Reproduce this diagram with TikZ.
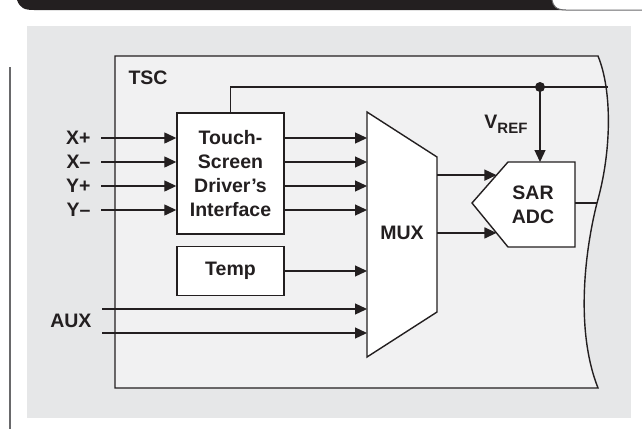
\documentclass[tikz,border=0pt]{standalone}
\usepackage{fontspec}
\setmainfont{Liberation Sans}
\usetikzlibrary{arrows.meta, positioning, calc}

\begin{document}
\begin{tikzpicture}[x=1pt, y=-1pt,
    every node/.style={font=\fontsize{19.5}{24}\selectfont\bfseries, text=inkcolor},
    blockbox/.style={draw=inkcolor, line width=1.4pt, fill=white, inner sep=0pt, align=center},
    wire/.style={draw=inkcolor, line width=1.3pt},
    feed/.style={wire, -{Triangle[length=12pt, width=11pt]}}]
    % Define consistent colors
    \definecolor{inkcolor}{RGB}{35,31,32}
    \definecolor{panelgray}{RGB}{230,231,232}
    \definecolor{boxgray}{RGB}{241,241,242}
    \definecolor{edgegray}{RGB}{105,105,107}

    \useasboundingbox (0,0) rectangle (642,429);

    % Page banner and background
    \fill[inkcolor] (17,0) .. controls (20,8) and (24,10) .. (34,10) -- (566,10)
        .. controls (556,10) and (553,6) .. (552,0) -- cycle;
    \draw[edgegray, line width=1pt] (552,0) .. controls (553,6) and (556,10) .. (566,10) -- (642,10);
    \fill[panelgray] (27,26) rectangle (631,418);
    \draw[edgegray, line width=2pt] (10,67) -- (10,429);

    % TSC outline with torn right edge
    \draw[inkcolor, line width=1.4pt, fill=boxgray] (115,56) -- (598,56)
        .. controls (612,90) and (612,150) .. (597,203)
        .. controls (585,250) and (575,330) .. (598,388) -- (115,388) -- cycle;
    \node[anchor=west] (tsc) at (125,78) {TSC};

    % Blocks
    \node[blockbox, minimum width=107pt, minimum height=121pt] (touch) at (230.5,173.5)
        {Touch-\\Screen\\Driver's\\Interface};
    \node[blockbox, minimum width=107pt, minimum height=49pt] (temp) at (230.5,271) {Temp};

    \coordinate (muxtl) at (367,112);
    \coordinate (muxtr) at (437,157);
    \coordinate (muxbr) at (437,312);
    \coordinate (muxbl) at (367,357);
    \draw[inkcolor, line width=1.4pt, fill=white] (muxtl) -- (muxtr) -- (muxbr) -- (muxbl) -- cycle;
    \node (mux) at (402,233) {MUX};

    \coordinate (adctip) at (472,203);
    \coordinate (adctl) at (508,162);
    \coordinate (adctr) at (575,162);
    \coordinate (adcbr) at (575,247);
    \coordinate (adcbl) at (508,247);
    \draw[inkcolor, line width=1.4pt, fill=white] (adctip) -- (adctl) -- (adctr) -- (adcbr) -- (adcbl) -- cycle;
    \node[align=center] (adc) at (533,205) {SAR\\ADC};

    % Touch-screen inputs and outputs
    \foreach \sig [count=\i] in {X+, X--, Y+, Y--} {
        \coordinate (in\i) at (101,{114+24*\i});
        \node[anchor=east] (lbl\i) at ([xshift=-7pt]in\i) {\sig};
        \draw[feed] (in\i) -- (in\i -| touch.west);
        \draw[feed] (in\i -| touch.east) -- (in\i -| muxtl);
    }

    % Temp and AUX into the MUX
    \draw[feed] (temp.east) -- (temp.east -| muxtl);
    \coordinate (aux1) at (102,309);
    \coordinate (aux2) at (102,333);
    \draw[feed] (aux1) -- (aux1 -| muxtl);
    \draw[feed] (aux2) -- (aux2 -| muxtl);
    \node[anchor=east] (aux) at ($(aux1)!0.5!(aux2)+(-7,0)$) {AUX};

    % MUX to ADC
    \coordinate (adcin1) at ($(adctip)!0.68!(adctl)$);
    \coordinate (adcin2) at ($(adctip)!0.68!(adcbl)$);
    \draw[feed] (adcin1 -| muxtr) -- (adcin1);
    \draw[feed] (adcin2 -| muxtr) -- (adcin2);

    % Reference bus
    \coordinate (vref) at (540,87);
    \coordinate (busend) at (608,87);
    \draw[wire] (touch.north) |- (busend);
    \fill[inkcolor] (vref) circle (5pt);
    \draw[feed] (vref) -- (vref |- adctl);
    \node[anchor=east] (vreflbl) at (531,124) {V\raisebox{-5pt}{\fontsize{15}{15}\selectfont REF}};

    % ADC output
    \coordinate (adcout) at (597,203);
    \draw[wire] (adctip -| adctr) -- (adcout);
\end{tikzpicture}
\end{document}
